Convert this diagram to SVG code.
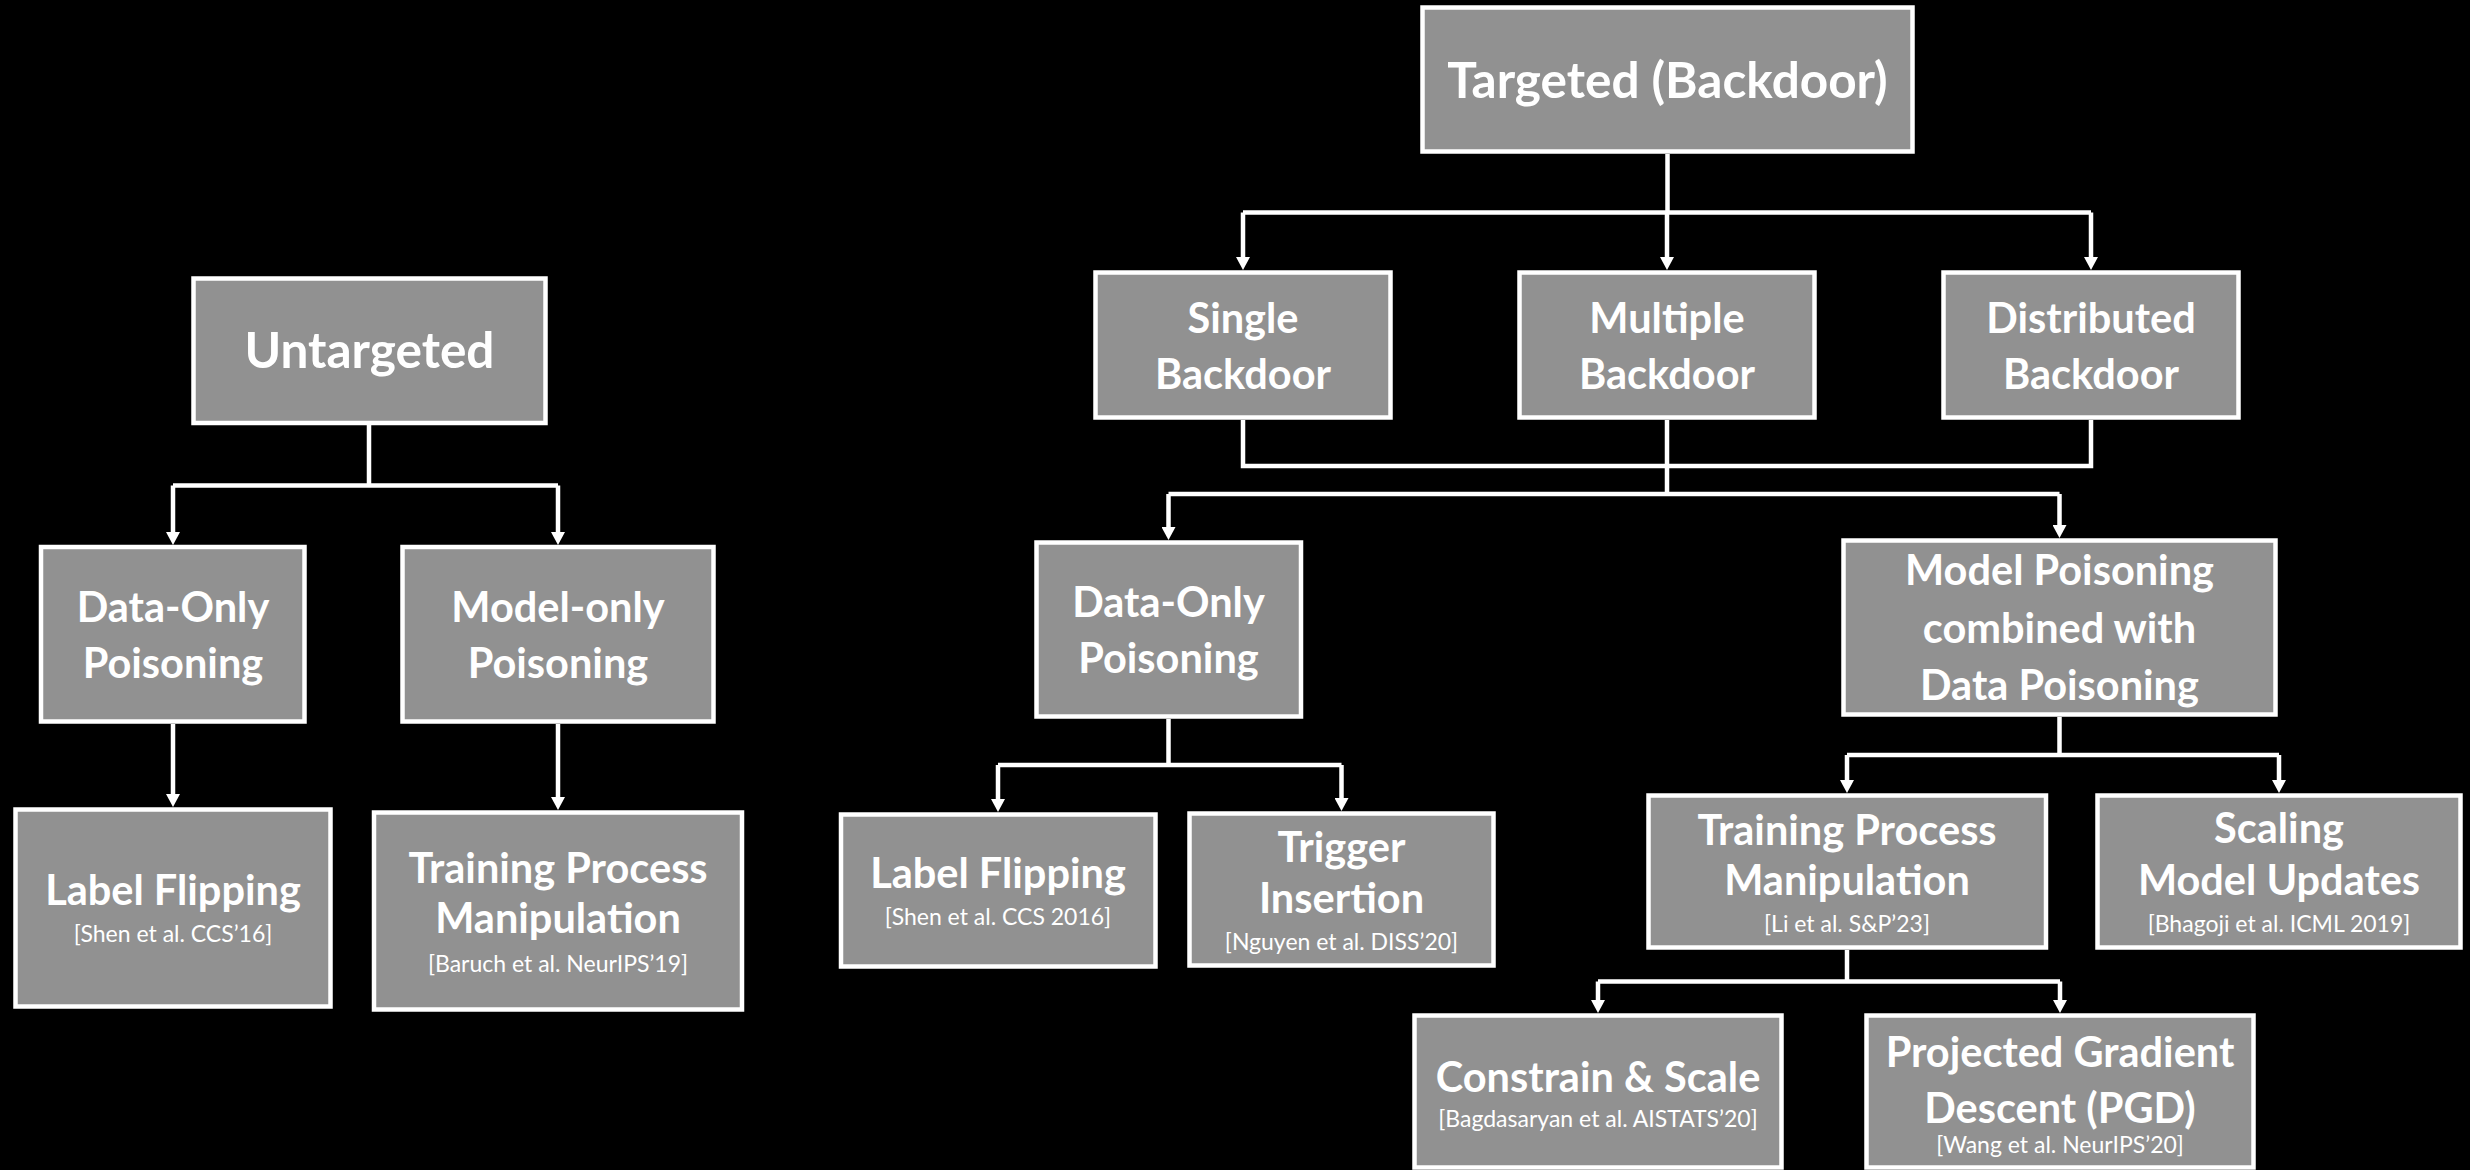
<svg xmlns="http://www.w3.org/2000/svg" width="2470" height="1170" viewBox="0 0 2470 1170">
  <style>
    .box { fill: #919191; stroke: #ffffff; stroke-width: 4.5; }
    .wire { fill: none; stroke: #ffffff; stroke-width: 4.5; }
    .arrow { fill: none; stroke: #ffffff; stroke-width: 4.5; marker-end: url(#head); }
    text { fill: #ffffff; text-anchor: middle; font-family: Lato, "Open Sans", "Liberation Sans", sans-serif; }
    .t1 { font-size: 49.5px; font-weight: bold; }
    .t2 { font-size: 41.5px; font-weight: bold; }
    .cite { font-size: 23px; font-weight: normal; }
  </style>
  <defs>
    <marker id="head" viewBox="0 -7 13 14" refX="5" refY="0" markerWidth="13" markerHeight="14" markerUnits="userSpaceOnUse" orient="auto">
      <path d="M0,-7 L13,0 L0,7 z" fill="#ffffff"/>
    </marker>
  </defs>
  <rect width="2470" height="1170" fill="#000000"/>

  <!-- connectors -->
  <g id="connectors">
    <!-- untargeted branch -->
    <path class="wire" d="M369,425 V485.5 M173,485.5 H558"/>
    <path class="arrow" d="M173,485.5 V537"/>
    <path class="arrow" d="M558,485.5 V537"/>
    <path class="arrow" d="M173,724 V799"/>
    <path class="arrow" d="M558,724 V802"/>

    <!-- targeted branch -->
    <path class="wire" d="M1667.5,154 V212.5 M1243,212.5 H2091"/>
    <path class="arrow" d="M1243,212.5 V262"/>
    <path class="arrow" d="M1667,212.5 V262"/>
    <path class="arrow" d="M2091,212.5 V262"/>
    <path class="wire" d="M1243,420 V466 H2091 V420 M1667,420 V494 M1168.5,494 H2059.5"/>
    <path class="arrow" d="M1168.5,494 V532"/>
    <path class="arrow" d="M2059.5,494 V530"/>

    <!-- data-only (targeted) -->
    <path class="wire" d="M1168.5,719 V765 M998,765 H1341.5"/>
    <path class="arrow" d="M998,765 V804"/>
    <path class="arrow" d="M1341.5,765 V803"/>

    <!-- model + data poisoning -->
    <path class="wire" d="M2059.5,717 V755 M1847,755 H2279"/>
    <path class="arrow" d="M1847,755 V785"/>
    <path class="arrow" d="M2279,755 V785"/>

    <!-- training process manipulation (targeted) -->
    <path class="wire" d="M1847,950 V981.5 M1598,981.5 H2060"/>
    <path class="arrow" d="M1598,981.5 V1005"/>
    <path class="arrow" d="M2060,981.5 V1005"/>
  </g>

  <!-- untargeted tree -->
  <g id="untargeted">
    <rect class="box" x="193.5" y="278.5" width="352" height="144.5"/>
    <text class="t1" x="369.5" y="368">Untargeted</text>
  </g>
  <g id="u-data-only">
    <rect class="box" x="41" y="547" width="263.5" height="174.5"/>
    <text class="t2" x="173" y="622">Data-Only</text>
    <text class="t2" x="173" y="678">Poisoning</text>
  </g>
  <g id="u-model-only">
    <rect class="box" x="402.5" y="547" width="311" height="174.5"/>
    <text class="t2" x="558" y="622">Model-only</text>
    <text class="t2" x="558" y="678">Poisoning</text>
  </g>
  <g id="u-label-flipping">
    <rect class="box" x="15.5" y="809.5" width="315" height="197"/>
    <text class="t2" x="173" y="905">Label Flipping</text>
    <text class="cite" x="173" y="942">[Shen et al. CCS’16]</text>
  </g>
  <g id="u-training-process">
    <rect class="box" x="374" y="812.5" width="368" height="197"/>
    <text class="t2" x="558" y="883">Training Process</text>
    <text class="t2" x="558" y="933">Manipulation</text>
    <text class="cite" x="558" y="972">[Baruch et al. NeurIPS’19]</text>
  </g>

  <!-- targeted tree -->
  <g id="targeted">
    <rect class="box" x="1422.5" y="7.5" width="490" height="144"/>
    <text class="t1" x="1667.5" y="98">Targeted (Backdoor)</text>
  </g>
  <g id="single-backdoor">
    <rect class="box" x="1095.5" y="272.5" width="295" height="145"/>
    <text class="t2" x="1243" y="333">Single</text>
    <text class="t2" x="1243" y="389">Backdoor</text>
  </g>
  <g id="multiple-backdoor">
    <rect class="box" x="1519.5" y="272.5" width="295" height="145"/>
    <text class="t2" x="1667" y="333">Multiple</text>
    <text class="t2" x="1667" y="389">Backdoor</text>
  </g>
  <g id="distributed-backdoor">
    <rect class="box" x="1943.5" y="272.5" width="295" height="145"/>
    <text class="t2" x="2091" y="333">Distributed</text>
    <text class="t2" x="2091" y="389">Backdoor</text>
  </g>
  <g id="t-data-only">
    <rect class="box" x="1036.5" y="542.5" width="264.5" height="174"/>
    <text class="t2" x="1168.5" y="617">Data-Only</text>
    <text class="t2" x="1168.5" y="673">Poisoning</text>
  </g>
  <g id="model-and-data-poisoning">
    <rect class="box" x="1843.5" y="540.5" width="432" height="174"/>
    <text class="t2" x="2059.5" y="585">Model Poisoning</text>
    <text class="t2" x="2059.5" y="643">combined with</text>
    <text class="t2" x="2059.5" y="700">Data Poisoning</text>
  </g>
  <g id="t-label-flipping">
    <rect class="box" x="841" y="814.5" width="314.5" height="152"/>
    <text class="t2" x="998" y="888">Label Flipping</text>
    <text class="cite" x="998" y="925">[Shen et al. CCS 2016]</text>
  </g>
  <g id="trigger-insertion">
    <rect class="box" x="1189.5" y="813.5" width="304" height="152"/>
    <text class="t2" x="1341.5" y="862">Trigger</text>
    <text class="t2" x="1341.5" y="913">Insertion</text>
    <text class="cite" x="1341.5" y="950">[Nguyen et al. DISS’20]</text>
  </g>
  <g id="t-training-process">
    <rect class="box" x="1648.5" y="795.5" width="397.5" height="152"/>
    <text class="t2" x="1847" y="845">Training Process</text>
    <text class="t2" x="1847" y="895">Manipulation</text>
    <text class="cite" x="1847" y="932">[Li et al. S&amp;P’23]</text>
  </g>
  <g id="scaling-updates">
    <rect class="box" x="2097.5" y="795.5" width="363" height="152"/>
    <text class="t2" x="2279" y="843">Scaling</text>
    <text class="t2" x="2279" y="895">Model Updates</text>
    <text class="cite" x="2279" y="932">[Bhagoji et al. ICML 2019]</text>
  </g>
  <g id="constrain-scale">
    <rect class="box" x="1414.5" y="1015.5" width="367" height="152"/>
    <text class="t2" x="1598" y="1092">Constrain &amp; Scale</text>
    <text class="cite" x="1598" y="1127">[Bagdasaryan et al. AISTATS’20]</text>
  </g>
  <g id="pgd">
    <rect class="box" x="1866.5" y="1015.5" width="387" height="152"/>
    <text class="t2" x="2060" y="1067">Projected Gradient</text>
    <text class="t2" x="2060" y="1123">Descent (PGD)</text>
    <text class="cite" x="2060" y="1153">[Wang et al. NeurIPS’20]</text>
  </g>
</svg>
